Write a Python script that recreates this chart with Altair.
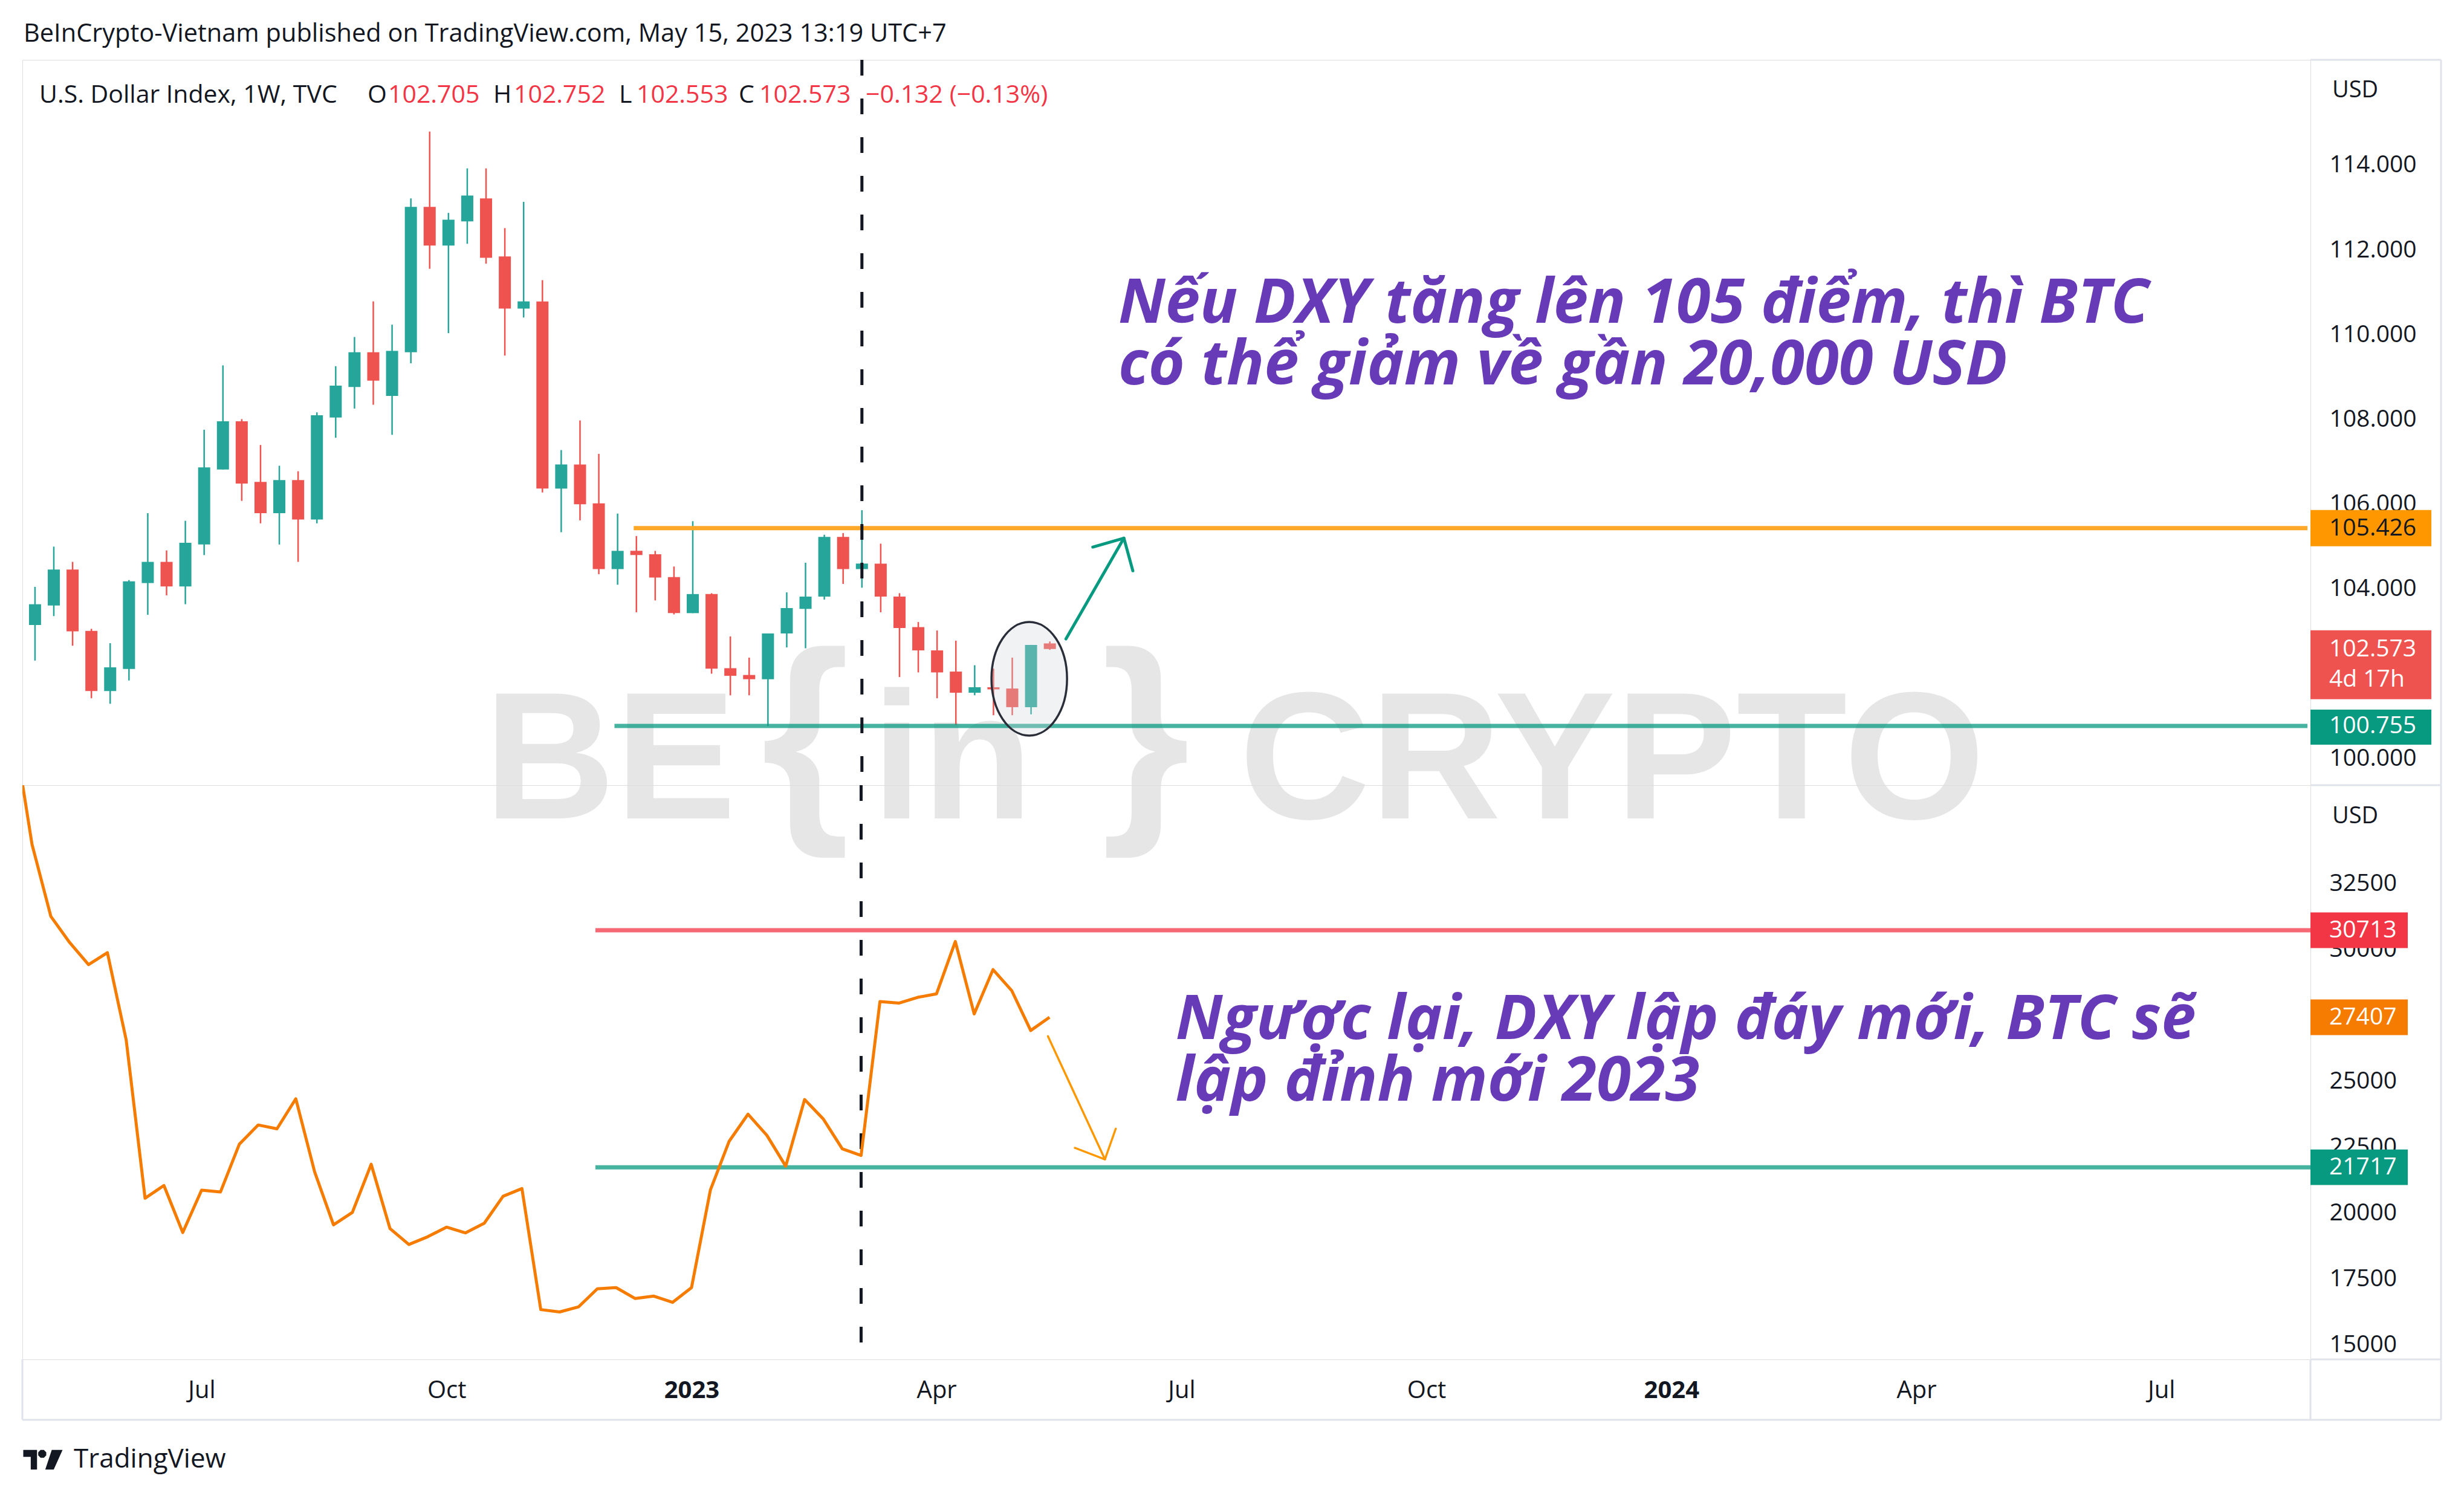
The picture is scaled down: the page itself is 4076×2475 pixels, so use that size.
import altair as alt
import pandas as pd

UI_FONT = "Open Sans"
NOTE_FONT = "Open Sans"
INK = "#131722"
FRAME = "#E0E3EB"
UP = "#26A69A"
DOWN = "#EF5350"
PURPLE = "#673AB7"

# ---------------- data ----------------
dxy_first_week = "2022-05-02"
dxy_open = [103.14, 103.60, 104.45, 103.00, 101.58, 102.10, 104.13, 104.63, 104.05, 105.04,
            106.81, 107.95, 106.52, 105.78, 106.56, 105.63, 108.04, 108.76, 109.58, 108.55,
            109.58, 113.01, 112.10, 112.67, 113.21, 111.84, 110.61, 110.78, 106.36, 106.93,
            106.01, 104.46, 104.89, 104.81, 104.27, 103.42, 103.87, 102.12, 101.96, 101.86,
            102.94, 103.52, 103.81, 105.22, 104.46, 104.59, 103.81, 103.09, 102.54, 102.04,
            101.54, 101.67, 101.64, 101.20, 102.705]
dxy_high = [104.04, 104.99, 104.63, 103.05, 102.71, 104.20, 105.78, 104.90, 105.60, 107.75,
            109.27, 108.00, 107.39, 106.90, 106.77, 108.16, 109.25, 109.94, 110.78, 110.23,
            113.21, 114.79, 112.87, 113.92, 113.92, 112.51, 113.13, 111.28, 107.27, 107.97,
            107.18, 105.77, 105.24, 104.89, 104.52, 105.59, 103.89, 102.87, 102.37, 102.94,
            103.91, 104.61, 105.27, 105.31, 105.85, 105.06, 103.89, 103.21, 103.01, 102.77,
            102.19, 102.11, 102.37, 102.67, 102.752]
dxy_low = [102.30, 103.35, 102.65, 101.41, 101.28, 101.83, 103.38, 103.84, 103.63, 104.79,
           106.81, 106.07, 105.54, 105.04, 104.63, 105.54, 107.56, 108.25, 108.34, 107.63,
           109.32, 111.55, 110.03, 112.14, 111.67, 109.50, 110.40, 106.27, 105.33, 105.61,
           104.34, 104.09, 103.44, 103.72, 103.39, 103.42, 101.99, 101.48, 101.48, 100.755,
           102.61, 102.59, 103.74, 104.11, 104.02, 103.44, 101.91, 102.02, 101.41, 100.78,
           101.48, 101.01, 101.01, 101.03, 102.553]
dxy_close = [103.63, 104.45, 102.99, 101.58, 102.14, 104.17, 104.63, 104.05, 105.08, 106.86,
             107.95, 106.48, 105.78, 106.56, 105.63, 108.09, 108.79, 109.58, 108.91, 109.61,
             113.01, 112.10, 112.71, 113.28, 111.81, 110.61, 110.78, 106.36, 106.93, 105.99,
             104.46, 104.89, 104.79, 104.26, 103.42, 103.87, 102.11, 101.94, 101.86, 102.94,
             103.54, 103.81, 105.22, 104.46, 104.59, 103.81, 103.07, 102.54, 102.02, 101.54,
             101.67, 101.62, 101.20, 102.67, 102.573]

btc_first_week = "2022-04-25"
btc_close = [38500, 33972, 31237, 30242, 29408, 29862, 26541, 20543, 21026, 19242,
             20851, 20778, 22591, 23323, 23176, 24317, 21538, 19534, 20002, 21831,
             19388, 18788, 19081, 19446, 19227, 19593, 20617, 20909, 16316, 16228,
             16418, 17106, 17150, 16740, 16828, 16594, 17150, 20851, 22708, 23732,
             22928, 21758, 24288, 23542, 22416, 22167, 28004, 27945, 28165, 28296,
             30286, 27536, 29218, 28413, 26907, 27407]

dxy_resistance = 105.426
dxy_support = 100.755
btc_resistance = 30713
btc_support = 21717
btc_last = 27407

x_end_str = "2024-08-25T10:00:00Z"
level_start_dxy_support = "2022-12-03T20:00:00Z"
level_start_dxy_resist = "2022-12-11T00:00:00Z"
level_start_btc = "2022-11-27T07:00:00Z"
divider_date = "2023-03-06"

tick_dates = [(2022, 7, 4), (2022, 10, 3), (2023, 1, 2), (2023, 4, 3), (2023, 7, 3),
              (2023, 10, 2), (2024, 1, 1), (2024, 4, 1), (2024, 7, 1)]

# annotation drawings (date, value)
up_arrow_dates = ["2023-05-21T00:00:00Z", "2023-06-11T14:00:00Z",
                  "2023-05-31T00:00:00Z", "2023-06-11T14:00:00Z", "2023-06-14T22:00:00Z"]
up_arrow_vals = [102.81, 105.19, 104.98, 105.19, 104.42]
up_arrow_seg = ["shaft", "shaft", "head", "head", "head"]

down_arrow_dates = ["2023-05-14T10:00:00Z", "2023-06-04T14:00:00Z",
                    "2023-05-24T10:00:00Z", "2023-06-04T14:00:00Z", "2023-06-08T14:00:00Z"]
down_arrow_vals = [26688, 22018, 22454, 22018, 23177]
down_arrow_seg = ["shaft", "shaft", "head", "head", "head"]

ellipse_date = "2023-05-07T08:00:00Z"
ellipse_val = 101.87

note1_date, note1_val = "2023-06-09T12:00:00Z", 110.27
note1_lines = ["Nếu DXY tăng lên 105 điểm, thì BTC", "có thể giảm về gần 20,000 USD"]
note2_date, note2_val = "2023-06-30T20:00:00Z", 26584
note2_lines = ["Ngược lại, DXY lập đáy mới, BTC sẽ", "lập đỉnh mới 2023"]

# ---------------- frames ----------------
weeks = [d.strftime("%Y-%m-%d") for d in pd.date_range(dxy_first_week, periods=len(dxy_open), freq="7D")]
cdf = pd.DataFrame({"date": weeks, "open": dxy_open, "high": dxy_high, "low": dxy_low, "close": dxy_close})
cdf["dir"] = ["up" if c >= o else "down" for o, c in zip(dxy_open, dxy_close)]

bweeks = [d.strftime("%Y-%m-%d") for d in pd.date_range(btc_first_week, periods=len(btc_close), freq="7D")]
bdf = pd.DataFrame({"date": bweeks, "close": btc_close})

PANE_W = 3785
TOP_H = 1200
BOT_H = 950
AXIS_W = 216
TIME_H = 100
NOTE_SIZE = 103

one = pd.DataFrame({"k": [0]})

x_dom = [alt.DateTime(year=2022, month=4, date=28, hours=10, utc=True),
         alt.DateTime(year=2024, month=8, date=25, hours=10, utc=True)]
xscale = alt.Scale(type="utc", domain=x_dom, nice=False)

xaxis_bot = alt.Axis(
    values=[alt.DateTime(year=y, month=m, date=d, utc=True) for y, m, d in tick_dates],
    labelExpr="utcmonth(datum.value) == 0 ? utcFormat(datum.value, '%Y') : utcFormat(datum.value, '%b')",
    labelFontWeight={"condition": {"test": "utcmonth(datum.value) == 0", "value": "bold"}, "value": "normal"},
    title=None, ticks=False, tickSize=0, domain=False, grid=False, labelPadding=51,
    labelBaseline="middle", labelFontSize=40, labelColor=INK, labelFont=UI_FONT,
    labelOverlap=False, labelFlush=False)


def XT(field):
    return alt.X(f"{field}:T", scale=xscale, axis=None)


def XB(field):
    return alt.X(f"{field}:T", scale=xscale, axis=xaxis_bot)


yaxis_common = dict(orient="right", title=None, grid=False, domain=False, ticks=False,
                    labelPadding=31, labelAlign="left", labelBaseline="middle", labelFontSize=39,
                    labelColor=INK, labelFont=UI_FONT, labelOverlap=False, labelFlush=False)
yaxis_top = alt.Axis(values=list(range(100, 115, 2)), format=".3f", **yaxis_common)
yaxis_bot = alt.Axis(values=list(range(15000, 32501, 2500)), format="d", **yaxis_common)
yscale_top = alt.Scale(domain=[99.358, 116.483], nice=False, zero=False)
yscale_bot = alt.Scale(domain=[14427, 36216], nice=False, zero=False)


def YT(field):
    return alt.Y(f"{field}:Q", scale=yscale_top, axis=yaxis_top)


def YB(field):
    return alt.Y(f"{field}:Q", scale=yscale_bot, axis=yaxis_bot)


def txt(s, x, y, size, color=INK, weight="normal", align="left", baseline="middle",
        font=UI_FONT, style="normal"):
    return alt.Chart(pd.DataFrame({"t": [s]})).mark_text(
        align=align, baseline=baseline, fontSize=size, font=font, fontWeight=weight,
        fontStyle=style, color=color, clip=False
    ).encode(x=alt.value(x), y=alt.value(y), text="t:N")


def hline(x1, x2, y):
    return alt.Chart(one).mark_rule(color=FRAME, strokeWidth=3, clip=False).encode(
        x=alt.value(x1), x2=alt.value(x2), y=alt.value(y))


def vline(x, y1, y2):
    return alt.Chart(one).mark_rule(color=FRAME, strokeWidth=3, clip=False).encode(
        x=alt.value(x), y=alt.value(y1), y2=alt.value(y2))


def price_box(value, label, Y, fill, txtcolor, half_w, top, bottom, extra=None):
    path = f"M -1 {top} L 1 {top} L 1 {bottom} L -1 {bottom} Z"
    df = pd.DataFrame({"v": [value], "label": [label]})
    box = alt.Chart(df).mark_point(shape=path, size=(2 * half_w) ** 2, filled=True, opacity=1,
                                   color=fill, strokeWidth=0, clip=False).encode(
        x=alt.value(PANE_W + half_w), y=Y("v"))
    t = alt.Chart(df).mark_text(align="left", baseline="middle", fontSize=39, font=UI_FONT,
                                color=txtcolor, clip=False).encode(
        x=alt.value(PANE_W + 31), y=Y("v"), text="label:N")
    layers = [box, t]
    if extra:
        t2 = alt.Chart(pd.DataFrame({"v": [value], "label": [extra]})).mark_text(
            align="left", baseline="middle", fontSize=39, font=UI_FONT, color=txtcolor,
            dy=50, clip=False).encode(x=alt.value(PANE_W + 31), y=Y("v"), text="label:N")
        layers.append(t2)
    return layers


# ---------------- top pane (DXY) ----------------
WM = "#E6E6E6"
WMF = "Liberation Sans"
watermark = [
    txt("BE", 764, 1255, 300, color=WM, weight="bold", baseline="alphabetic", font=WMF),
    txt("{", 1222, 1242, 376, color=WM, weight="bold", baseline="alphabetic", font=WMF),
    txt("in", 1405, 1255, 300, color=WM, weight="bold", baseline="alphabetic", font=WMF),
    txt("}", 1785, 1242, 376, color=WM, weight="bold", baseline="alphabetic", font=WMF),
    txt("CRYPTO", 2013, 1255, 300, color=WM, weight="bold", baseline="alphabetic", font=WMF),
]

color = alt.Color("dir:N", scale=alt.Scale(domain=["up", "down"], range=[UP, DOWN]), legend=None)
wicks = alt.Chart(cdf).mark_rule(strokeWidth=2.5).encode(x=XT("date"), y=YT("low"), y2="high:Q", color=color)
bodies = alt.Chart(cdf).mark_bar(size=20).encode(x=XT("date"), y=YT("open"), y2="close:Q", color=color)

top_lv = pd.DataFrame({"start": [level_start_dxy_support, level_start_dxy_resist],
                       "end": [x_end_str, x_end_str],
                       "v": [dxy_support, dxy_resistance], "kind": ["s", "r"]})
lv_support = alt.Chart(top_lv[top_lv.kind == "s"]).mark_rule(color="#089981", opacity=0.75, strokeWidth=7).encode(
    x=XT("start"), x2="end:T", y=YT("v"))
lv_resist = alt.Chart(top_lv[top_lv.kind == "r"]).mark_rule(color="#FFA726", strokeWidth=7).encode(
    x=XT("start"), x2="end:T", y=YT("v"))

div_df = pd.DataFrame({"date": [divider_date]})
div_top = alt.Chart(div_df).mark_rule(color=INK, strokeWidth=5, strokeDash=[26, 38]).encode(
    x=XT("date"), y=alt.value(0), y2=alt.value(TOP_H))

a, k = 0.665, 0.5523
ell_path = (f"M 0 -1 C {k*a:.3f} -1 {a} -{k} {a} 0 C {a} {k} {k*a:.3f} 1 0 1 "
            f"C -{k*a:.3f} 1 -{a} {k} -{a} 0 C -{a} -{k} -{k*a:.3f} -1 0 -1 Z")
ell = alt.Chart(pd.DataFrame({"date": [ellipse_date], "v": [ellipse_val]})).mark_point(
    shape=ell_path, size=188 ** 2, filled=True, fill="#D1D4DC", fillOpacity=0.3,
    stroke="#2A2E39", strokeWidth=3.5, opacity=1).encode(x=XT("date"), y=YT("v"))

up_df = pd.DataFrame({"date": up_arrow_dates, "v": up_arrow_vals, "seg": up_arrow_seg,
                      "o": list(range(len(up_arrow_vals)))})
up_arrow = alt.Chart(up_df).mark_line(color="#089981", strokeWidth=5, strokeCap="round",
                                      strokeJoin="round").encode(
    x=XT("date"), y=YT("v"), detail="seg:N", order="o:Q")

n1 = pd.DataFrame({"date": [note1_date], "v": [note1_val], "l1": [note1_lines[0]], "l2": [note1_lines[1]]})
note1a = alt.Chart(n1).mark_text(align="left", baseline="alphabetic", fontSize=NOTE_SIZE, font=NOTE_FONT,
                                 fontWeight="bold", fontStyle="italic", color=PURPLE, clip=False).encode(
    x=XT("date"), y=YT("v"), text="l1:N")
note1b = alt.Chart(n1).mark_text(align="left", baseline="alphabetic", fontSize=NOTE_SIZE, font=NOTE_FONT,
                                 fontWeight="bold", fontStyle="italic", color=PURPLE, dy=102, clip=False).encode(
    x=XT("date"), y=YT("v"), text="l2:N")

RED_TXT = "#F23645"
LG = 41
legend = [
    txt("BeInCrypto-Vietnam published on TradingView.com, May 15, 2023 13:19 UTC+7", 2, -42, 41.5),
    txt("U.S. Dollar Index, 1W, TVC", 28, 59, LG),
    txt("O", 571, 59, LG), txt(f"{dxy_open[-1]:.3f}", 605, 59, LG, color=RED_TXT),
    txt("H", 779, 59, LG), txt(f"{dxy_high[-1]:.3f}", 813, 59, LG, color=RED_TXT),
    txt("L", 987, 59, LG), txt(f"{dxy_low[-1]:.3f}", 1016, 59, LG, color=RED_TXT),
    txt("C", 1185, 59, LG), txt(f"{dxy_close[-1]:.3f}", 1219, 59, LG, color=RED_TXT),
    txt("−0.132 (−0.13%)", 1395, 59, LG, color=RED_TXT),
    txt("USD", 3821, 51, 38),
]

top_boxes = (price_box(dxy_resistance, f"{dxy_resistance:.3f}", YT, "#FF9800", INK, 100, -0.3, 0.3)
             + price_box(dxy_close[-1], f"{dxy_close[-1]:.3f}", YT, "#EF5350", "white", 100, -0.31, 0.83,
                         extra="4d 17h")
             + price_box(dxy_support, f"{dxy_support:.3f}", YT, "#089981", "white", 100, -0.27, 0.31))

top_frame = [hline(PANE_W, PANE_W + AXIS_W, 0), vline(PANE_W + AXIS_W, 0, TOP_H),
             hline(PANE_W, PANE_W + AXIS_W, TOP_H)]

top = alt.layer(*watermark, wicks, bodies, lv_support, lv_resist, div_top, ell, up_arrow,
                note1a, note1b, *legend, *top_boxes, *top_frame).properties(width=PANE_W, height=TOP_H)

# ---------------- bottom pane (BTC) ----------------
bot_lv = pd.DataFrame({"start": [level_start_btc, level_start_btc], "end": [x_end_str, x_end_str],
                       "v": [btc_resistance, btc_support], "kind": ["r", "s"]})
blv_r = alt.Chart(bot_lv[bot_lv.kind == "r"]).mark_rule(color="#F23645", opacity=0.75, strokeWidth=7).encode(
    x=XB("start"), x2="end:T", y=YB("v"))
blv_s = alt.Chart(bot_lv[bot_lv.kind == "s"]).mark_rule(color="#089981", opacity=0.75, strokeWidth=7).encode(
    x=XB("start"), x2="end:T", y=YB("v"))

div_bot = alt.Chart(div_df).mark_rule(color=INK, strokeWidth=5, strokeDash=[26, 38]).encode(
    x=XB("date"), y=alt.value(0), y2=alt.value(925))

btc_line = alt.Chart(bdf).mark_line(color="#F57C00", strokeWidth=5, clip=True, strokeJoin="round").encode(
    x=XB("date"), y=YB("close"))

dn_df = pd.DataFrame({"date": down_arrow_dates, "v": down_arrow_vals, "seg": down_arrow_seg,
                      "o": list(range(len(down_arrow_vals)))})
dn_arrow = alt.Chart(dn_df).mark_line(color="#FF9800", strokeWidth=3.5, strokeCap="round",
                                      strokeJoin="round").encode(
    x=XB("date"), y=YB("v"), detail="seg:N", order="o:Q")

n2 = pd.DataFrame({"date": [note2_date], "v": [note2_val], "l1": [note2_lines[0]], "l2": [note2_lines[1]]})
note2a = alt.Chart(n2).mark_text(align="left", baseline="alphabetic", fontSize=NOTE_SIZE, font=NOTE_FONT,
                                 fontWeight="bold", fontStyle="italic", color=PURPLE, clip=False).encode(
    x=XB("date"), y=YB("v"), text="l1:N")
note2b = alt.Chart(n2).mark_text(align="left", baseline="alphabetic", fontSize=NOTE_SIZE, font=NOTE_FONT,
                                 fontWeight="bold", fontStyle="italic", color=PURPLE, dy=102, clip=False).encode(
    x=XB("date"), y=YB("v"), text="l2:N")

bot_boxes = (price_box(btc_resistance, str(btc_resistance), YB, "#F23645", "white", 80.5, -0.366, 0.366)
             + price_box(btc_last, str(btc_last), YB, "#F57C00", "white", 80.5, -0.366, 0.366)
             + price_box(btc_support, str(btc_support), YB, "#089981", "white", 80.5, -0.366, 0.366))

tv_logo_path = ("M -1 -0.5 L -0.3 -0.5 L -0.3 0.5 L -0.62 0.5 L -0.62 -0.15 L -1 -0.15 Z "
                "M -0.12 -0.5 L 0.05 -0.5 L 0.17 -0.38 L 0.17 -0.22 L 0.05 -0.1 L -0.12 -0.1 "
                "L -0.24 -0.22 L -0.24 -0.38 Z "
                "M 0.45 -0.5 L 1 -0.5 L 0.55 0.5 L 0.12 0.5 Z")
tv_logo = alt.Chart(one).mark_point(shape=tv_logo_path, size=65 ** 2, filled=True, opacity=1,
                                    color=INK, strokeWidth=0, clip=False).encode(
    x=alt.value(34), y=alt.value(1116))

bot_extra = [
    txt("USD", 3821, 52, 38),
    tv_logo,
    txt("TradingView", 85, 1116, 44, weight=500),
]

bot_frame = [vline(PANE_W + AXIS_W, 0, BOT_H + TIME_H), hline(PANE_W, PANE_W + AXIS_W, BOT_H),
             vline(PANE_W, BOT_H, BOT_H + TIME_H), vline(0, BOT_H, BOT_H + TIME_H),
             hline(0, PANE_W + AXIS_W, BOT_H + TIME_H)]

bottom = alt.layer(div_bot, blv_r, blv_s, btc_line, dn_arrow, note2a, note2b, *bot_boxes,
                   *bot_extra, *bot_frame).properties(width=PANE_W, height=BOT_H)

chart = alt.vconcat(top, bottom, spacing=0, bounds="flush").properties(
    padding={"left": 27, "top": 27, "right": 8, "bottom": 8}
).configure_view(stroke=FRAME, strokeWidth=3).configure(background="white", font=UI_FONT)

chart.save("out.html", embed_options={"renderer": "svg", "actions": False})
